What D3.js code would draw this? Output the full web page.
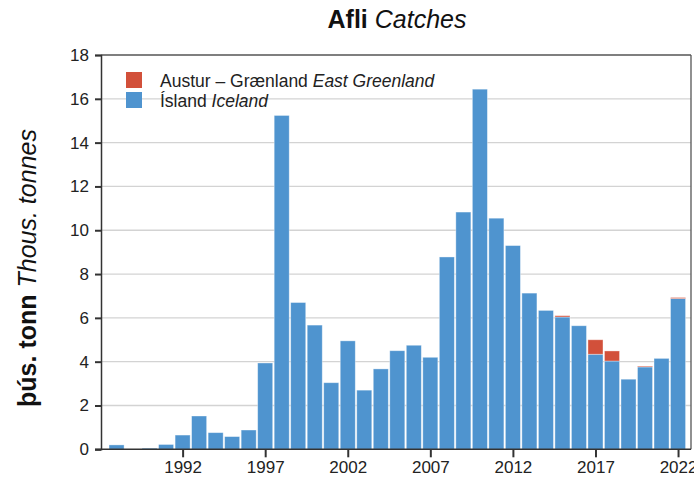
<!DOCTYPE html>
<html><head><meta charset="utf-8">
<script src="https://cdn.jsdelivr.net/npm/d3@7"></script>
<style>body{margin:0;background:#fff}svg{display:block}text{font-family:"Liberation Sans",Arial,Helvetica,sans-serif}</style>
</head><body>
<svg id="c" width="694" height="479"></svg>
<script>
const years = d3.range(1988, 2023);
const iceland = [0.2,0,0.05,0.22,0.65,1.52,0.76,0.58,0.88,3.94,15.24,6.7,5.67,3.04,4.95,2.7,3.67,4.5,4.75,4.2,8.78,10.83,16.44,10.55,9.3,7.13,6.34,6.04,5.64,4.34,4.03,3.2,3.76,4.15,6.88];
const greenland = [0,0,0,0,0,0,0,0,0,0,0,0,0,0,0,0,0,0,0,0,0,0,0,0,0,0,0,0.06,0,0.66,0.46,0,0.04,0,0.05];
const yTicks = [0,2,4,6,8,10,12,14,16,18];
const xTicks = [1992,1997,2002,2007,2012,2017,2022];
const seriesNames = [["Austur – Grænland","East Greenland"],["Ísland","Iceland"]];
const colors = ["#d2503a","#4f94cf"];

const svg = d3.select("#c");
const L=101, R=691, T=55, B=449.3;
const x = d3.scaleBand().domain(years).range([108.3, 686.3]).paddingInner(0.09).paddingOuter(0.045);
const y = d3.scaleLinear().domain([0,18]).range([B,T]);

// gridlines
svg.append("g").selectAll("line").data(yTicks.filter(d=>d>0&&d<18)).join("line")
  .attr("x1",L).attr("x2",R).attr("y1",d=>y(d)).attr("y2",d=>y(d))
  .attr("stroke","#d3d3d3").attr("stroke-width",1.3);

const rows = years.map((yr,i)=>({year:yr, ice:iceland[i], gr:greenland[i]}));
const stack = d3.stack().keys(["ice","gr"])(rows);
const g = svg.append("g");
stack.forEach((s,si)=>{
  g.append("g").selectAll("rect").data(s.filter(d=>d[1]-d[0]>0)).join("rect")
   .attr("x",d=>x(d.data.year)).attr("width",x.bandwidth())
   .attr("y",d=>y(d[1])).attr("height",d=>y(d[0])-y(d[1]))
   .attr("fill", si===0?colors[1]:colors[0])
   .attr("stroke","rgba(255,255,255,0.45)").attr("stroke-width",0.8);
});

// frame
svg.append("line").attr("x1",L).attr("x2",R).attr("y1",T).attr("y2",T).attr("stroke","#555").attr("stroke-width",1.3);
svg.append("line").attr("x1",R).attr("x2",R).attr("y1",T).attr("y2",B).attr("stroke","#555").attr("stroke-width",1.3);

// y axis
const ya = svg.append("g").attr("transform",`translate(${L},0)`)
  .call(d3.axisLeft(y).tickValues(yTicks).tickSize(6).tickPadding(6).tickFormat(d3.format("d")));
ya.select(".domain").attr("stroke","#333").attr("stroke-width",1.5);
ya.selectAll(".tick line").attr("stroke","#333").attr("stroke-width",2);
ya.selectAll(".tick text").attr("fill","#222").style("font-size","17px");

// x axis
const xl = d3.scaleLinear().domain([1988,2022]).range([x(1988)+x.bandwidth()/2, x(2022)+x.bandwidth()/2]);
const xa = svg.append("g").attr("transform",`translate(0,${B})`)
  .call(d3.axisBottom(xl).tickValues(xTicks).tickSize(8).tickPadding(4).tickFormat(d3.format("d")));
xa.select(".domain").remove();
svg.append("line").attr("x1",L-6).attr("x2",R).attr("y1",B).attr("y2",B).attr("stroke","#333").attr("stroke-width",1.5);
xa.selectAll(".tick line").attr("stroke","#333").attr("stroke-width",2);
xa.selectAll(".tick text").attr("fill","#222").style("font-size","17px");

// title
const t = svg.append("text").attr("x",397).attr("y",28).attr("text-anchor","middle").style("font-size","25px").attr("fill","#111");
t.append("tspan").attr("font-weight","bold").text("Afli ");
t.append("tspan").attr("font-style","italic").text("Catches");

// y title
const yt = svg.append("text").attr("transform","translate(36,268) rotate(-90)").attr("text-anchor","middle").style("font-size","25px").attr("fill","#111");
yt.append("tspan").attr("font-weight","bold").text("þús. tonn ");
yt.append("tspan").attr("font-style","italic").text("Thous. tonnes");

// legend
const lg = svg.append("g");
seriesNames.forEach((n,i)=>{
  lg.append("rect").attr("x",126).attr("y",72+i*20).attr("width",16).attr("height",16).attr("fill",colors[i]);
  const tx = lg.append("text").attr("x",160).attr("y",86.5+i*20).style("font-size","17.5px").attr("fill","#222");
  tx.append("tspan").text(n[0]+" ");
  tx.append("tspan").attr("font-style","italic").text(n[1]);
});
</script>
</body></html>
